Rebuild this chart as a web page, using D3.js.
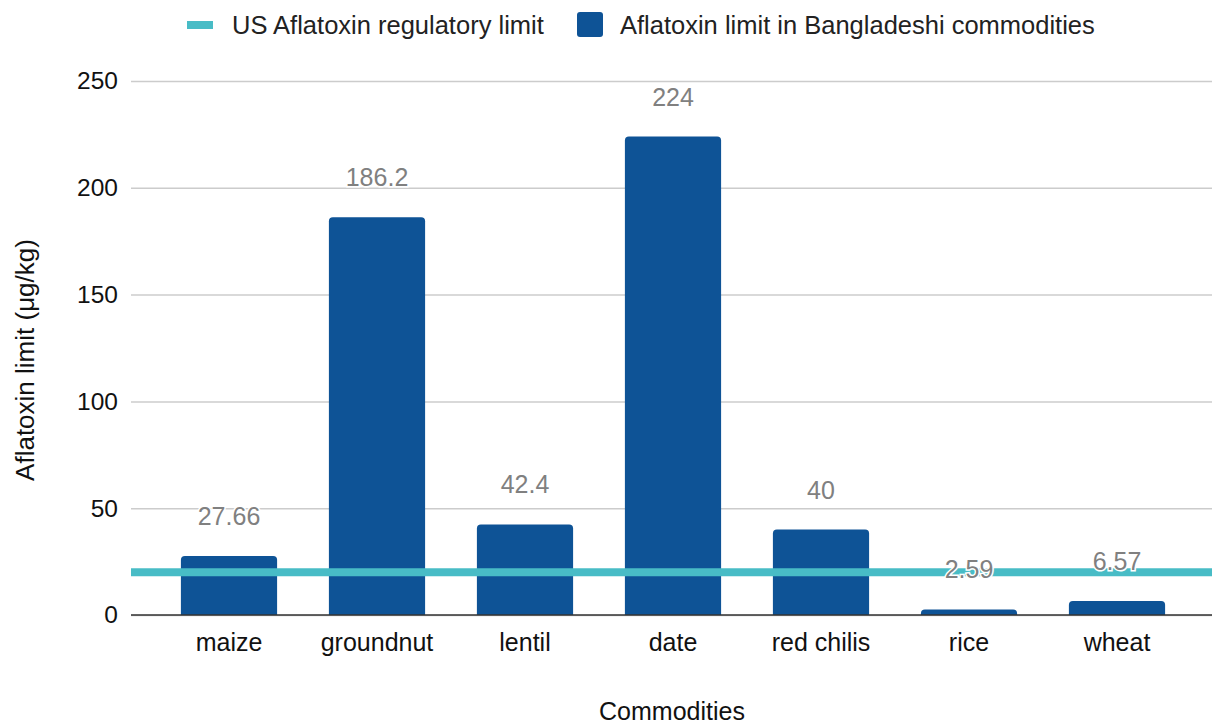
<!DOCTYPE html>
<html lang="en">
<head>
	<meta charset="UTF-8">
	<title>Aflatoxin limits</title>
	<style>
		body { margin: 0; background: #fff; }
		text { font-family: "Liberation Sans", Arial, sans-serif; }
	</style>
	<script src="https://d3js.org/d3.v7.min.js"></script>
</head>
<body>
	<script type="text/javascript">
		const width = 1212
		const height = 724

//data
		const commodities = ["maize", "groundnut", "lentil", "date", "red chilis", "rice", "wheat"]
		const bdLimits = [27.66, 186.2, 42.4, 224, 40, 2.59, 6.57]
		const valueLabels = ["27.66", "186.2", "42.4", "224", "40", "2.59", "6.57"]
		const usLimit = 20
		const yTicks = [0, 50, 100, 150, 200, 250]

		const barColor = "#0e5396"
		const lineColor = "#48bcc6"

		const svg = d3.select("body").append("svg")
			.attr("width", width)
			.attr("height", height)

//scales
		const x = d3.scaleBand()
			.domain(commodities)
			.range([155, 1191])
			.paddingInner(0.35)
			.paddingOuter(0.175)

		const y = d3.scaleLinear()
			.domain([0, 250])
			.range([615, 81])

//gridlines + y tick labels
		const yAxis = svg.append("g")
			.attr("transform", "translate(131,0)")
			.call(d3.axisLeft(y).tickValues(yTicks).tickSize(-(width - 131)).tickPadding(13))
		yAxis.select(".domain").remove()
		yAxis.selectAll("line").attr("stroke", "#cccccc").attr("stroke-width", 1.5)
		yAxis.selectAll("text").attr("font-size", 24.5).attr("fill", "#111")
			.attr("font-family", "Liberation Sans, Arial, sans-serif")

//bars with rounded tops
		function barPath(d, i) {
			const x0 = x(commodities[i]), w = x.bandwidth()
			const y0 = y(0), y1 = y(d)
			const r = Math.min(4, (y0 - y1))
			return "M" + x0 + "," + y0 + "V" + (y1 + r) + "Q" + x0 + "," + y1 + " " + (x0 + r) + "," + y1 +
				"H" + (x0 + w - r) + "Q" + (x0 + w) + "," + y1 + " " + (x0 + w) + "," + (y1 + r) + "V" + y0 + "Z"
		}

		svg.selectAll(".bar")
			.data(bdLimits)
			.join("path")
			.attr("class", "bar")
			.attr("d", barPath)
			.attr("fill", barColor)

//baseline
		svg.append("line")
			.attr("x1", 131).attr("x2", width)
			.attr("y1", y(0)).attr("y2", y(0))
			.attr("stroke", "#333").attr("stroke-width", 1.5)

//US regulatory limit line
		svg.append("line")
			.attr("x1", 131).attr("x2", width)
			.attr("y1", y(usLimit)).attr("y2", y(usLimit))
			.attr("stroke", lineColor).attr("stroke-width", 8)

//value labels
		svg.selectAll(".vlabel")
			.data(bdLimits)
			.join("text")
			.attr("class", "vlabel")
			.attr("x", (d, i) => x(commodities[i]) + x.bandwidth() / 2)
			.attr("y", d => y(d) - 31)
			.attr("text-anchor", "middle")
			.attr("font-size", 25)
			.attr("fill", "#808080")
			.attr("stroke", "#fff")
			.attr("stroke-width", 3)
			.attr("paint-order", "stroke")
			.text((d, i) => valueLabels[i])

//x tick labels
		svg.selectAll(".xlabel")
			.data(commodities)
			.join("text")
			.attr("class", "xlabel")
			.attr("x", d => x(d) + x.bandwidth() / 2)
			.attr("y", 651)
			.attr("text-anchor", "middle")
			.attr("font-size", 25)
			.attr("fill", "#111")
			.text(d => d)

//axis titles
		svg.append("text")
			.attr("x", 672).attr("y", 720)
			.attr("text-anchor", "middle")
			.attr("font-size", 25)
			.attr("fill", "#111")
			.text("Commodities")

		svg.append("text")
			.attr("transform", "translate(34,360) rotate(-90)")
			.attr("text-anchor", "middle")
			.attr("font-size", 26)
			.attr("fill", "#111")
			.text("Aflatoxin limit (μg/kg)")

//legend
		const legend = svg.append("g")
		legend.append("rect")
			.attr("x", 187).attr("y", 21).attr("width", 26).attr("height", 8)
			.attr("fill", lineColor)
		legend.append("text")
			.attr("x", 232).attr("y", 34)
			.attr("font-size", 25.5).attr("fill", "#222")
			.text("US Aflatoxin regulatory limit")
		legend.append("rect")
			.attr("x", 577).attr("y", 12).attr("width", 26).attr("height", 25).attr("rx", 3)
			.attr("fill", barColor)
		legend.append("text")
			.attr("x", 620).attr("y", 34)
			.attr("font-size", 25.5).attr("fill", "#222")
			.text("Aflatoxin limit in Bangladeshi commodities")
	</script>
</body>
</html>
